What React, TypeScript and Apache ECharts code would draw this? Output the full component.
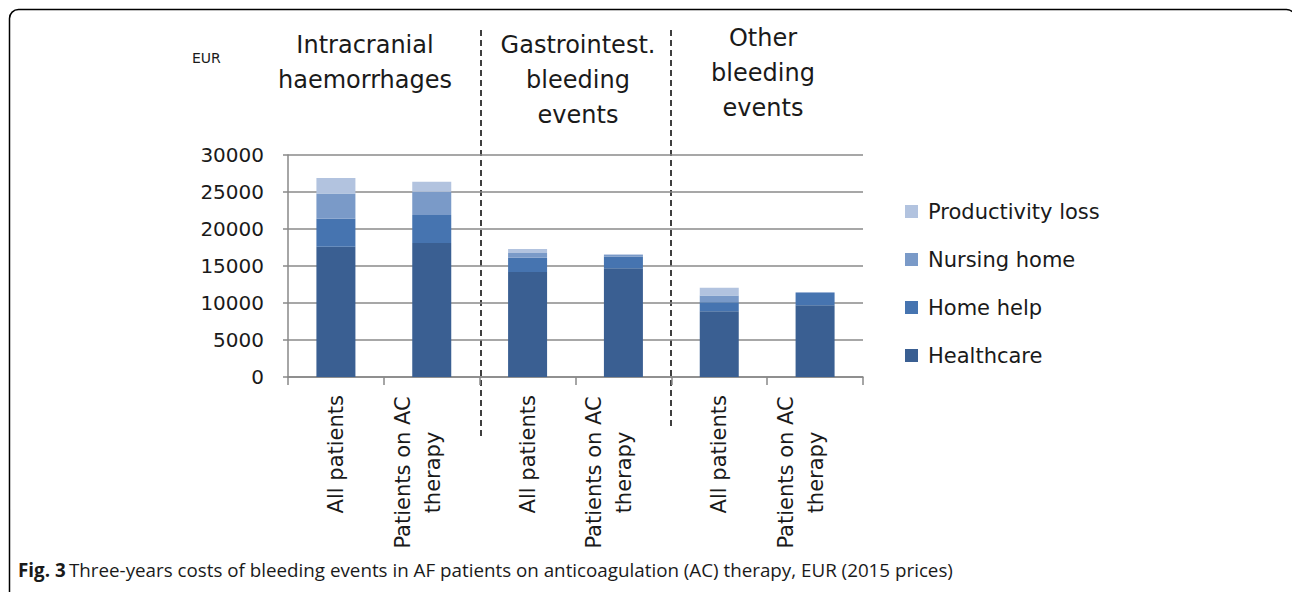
import React, { useEffect, useRef } from "react";
import * as echarts from "echarts";

const categories = [
  "All patients",
  "Patients on AC\ntherapy",
  "All patients",
  "Patients on AC\ntherapy",
  "All patients",
  "Patients on AC\ntherapy",
];
const healthcare = [17600, 18100, 14200, 14700, 8900, 9700];
const homeHelp = [3800, 3800, 1900, 1600, 1200, 1650];
const nursingHome = [3400, 3150, 650, 200, 900, 100];
const productivityLoss = [2100, 1350, 550, 100, 1050, 0];
const seriesNames = ["Healthcare", "Home help", "Nursing home", "Productivity loss"];
const seriesColors = ["#3A5F92", "#4674B0", "#7A9AC8", "#B2C3DF"];
const groupHeaders = [
  { text: "Intracranial\nhaemorrhages", x: 365, y: 62 },
  { text: "Gastrointest.\nbleeding\nevents", x: 578, y: 80 },
  { text: "Other\nbleeding\nevents", x: 763, y: 73 },
];
const yTicks = { min: 0, max: 30000, interval: 5000 };
const caption = "Three-years costs of bleeding events in AF patients on anticoagulation (AC) therapy, EUR (2015 prices)";

const FONT = "DejaVu Sans";

export default function App() {
  const ref = useRef<HTMLDivElement>(null);
  useEffect(() => {
    if (!ref.current) return;
    const chart = echarts.init(ref.current, null, { renderer: "svg" });
    const values = [healthcare, homeHelp, nursingHome, productivityLoss];
    chart.setOption({
      animation: false,
      backgroundColor: "#ffffff",
      grid: { left: 288, top: 155, right: 429, bottom: 215, containLabel: false },
      legend: {
        orient: "vertical",
        left: 900,
        top: 196,
        itemWidth: 13,
        itemHeight: 13,
        itemGap: 27,
        icon: "rect",
        data: ["Productivity loss", "Nursing home", "Home help", "Healthcare"],
        textStyle: { fontFamily: FONT, fontSize: 21, color: "#1a1a1a", padding: [0, 0, 0, 5], lineHeight: 21 },
      },
      xAxis: {
        type: "category",
        data: categories,
        axisLine: { show: true, lineStyle: { color: "#888888", width: 1.5 } },
        axisTick: { show: true, length: 8, lineStyle: { color: "#888888", width: 1.5 } },
        axisLabel: {
          rotate: 90,
          margin: 18,
          interval: 0,
          fontFamily: FONT,
          fontSize: 21,
          color: "#1a1a1a",
          formatter: (v: string) => {
            const parts = v.split("\n");
            if (parts.length === 1) return v;
            return parts.map((p) => `{c|${p}}`).join("\n") + "\n{e| }";
          },
          rich: {
            c: { width: 155, align: "center", fontFamily: FONT, fontSize: 21, lineHeight: 30, color: "#1a1a1a" },
            e: { fontSize: 10, lineHeight: 28 },
          },
        },
      },
      yAxis: {
        type: "value",
        min: yTicks.min,
        max: yTicks.max,
        interval: yTicks.interval,
        axisLine: { show: true, lineStyle: { color: "#888888", width: 1.5 } },
        axisTick: { show: true, length: 5, lineStyle: { color: "#888888", width: 1.5 } },
        axisLabel: {
          margin: 24,
          fontFamily: FONT,
          fontSize: 20,
          color: "#1a1a1a",
          formatter: (v: number) => String(v),
        },
        splitLine: { show: true, lineStyle: { color: "#8a8a8a", width: 1.5 } },
      },
      series: seriesNames.map((name, i) => ({
        name,
        type: "bar",
        stack: "total",
        barWidth: 39,
        data: values[i],
        itemStyle: { color: seriesColors[i] },
      })),
      graphic: [
        {
          type: "rect",
          shape: { x: 9.5, y: 9.5, width: 1286, height: 640, r: 9 },
          style: { fill: "none", stroke: "#000", lineWidth: 1.5 },
          silent: true,
        },
        {
          type: "text",
          left: 192,
          top: 51,
          style: { text: "EUR", font: `14px "${FONT}"`, fill: "#1a1a1a" },
        },
        ...groupHeaders.map((h) => ({
          type: "text",
          x: h.x,
          y: h.y,
          style: {
            text: h.text,
            font: `24px "${FONT}"`,
            fill: "#1a1a1a",
            align: "center",
            verticalAlign: "middle",
            lineHeight: 35,
          },
        })),
        {
          type: "line",
          shape: { x1: 481, y1: 30, x2: 481, y2: 440 },
          style: { stroke: "#000", lineWidth: 1.5, lineDash: [6, 4] },
        },
        {
          type: "line",
          shape: { x1: 671, y1: 30, x2: 671, y2: 427 },
          style: { stroke: "#000", lineWidth: 1.5, lineDash: [6, 4] },
        },
        {
          type: "text",
          left: 18,
          top: 560,
          style: {
            text: "{b|Fig. 3} {r|" + caption + "}",
            rich: {
              b: { font: 'bold 18.8px "Open Sans"', fill: "#1a1a1a" },
              r: { font: '18.8px "Open Sans"', fill: "#1a1a1a" },
            },
          },
        },
      ],
    });
    return () => chart.dispose();
  }, []);
  return <div ref={ref} style={{ position: "fixed", left: 0, top: 0, width: 1292, height: 592 }} />;
}
